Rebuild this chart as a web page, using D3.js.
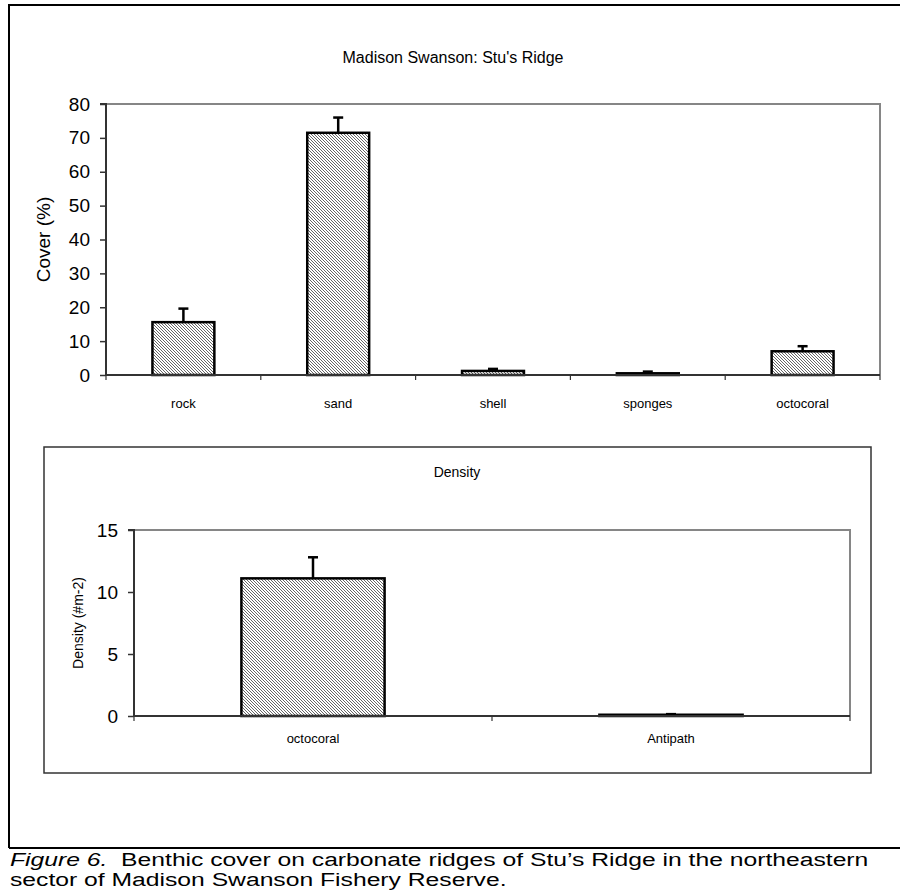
<!DOCTYPE html>
<html><head><meta charset="utf-8">
<script src="https://cdn.jsdelivr.net/npm/d3@7"></script>
<style>body{margin:0;background:#fff}svg{display:block}text{font-family:"Liberation Sans",Arial,sans-serif;fill:#000}</style>
</head><body>
<svg id="c" width="900" height="891"></svg>
<script>
// Top chart data
const coverCats = ["rock","sand","shell","sponges","octocoral"];
const coverVals = [15.6, 71.5, 1.2, 0.5, 7.0];
const coverErr  = [4.0, 4.5, 0.6, 0.5, 1.5];
const coverTicks = [0,10,20,30,40,50,60,70,80];
// Bottom chart data
const densCats = ["octocoral","Antipath"];
const densVals = [11.1, 0.1];
const densErr  = [1.7, 0.05];
const densTicks = [0,5,10,15];

const svg = d3.select("#c");
const defs = svg.append("defs");
const pat = defs.append("pattern").attr("id","hatch").attr("patternUnits","userSpaceOnUse")
  .attr("width",3).attr("height",3);
pat.append("rect").attr("width",3).attr("height",3).attr("fill","#fff");
pat.append("path").attr("d","M-1,-1L4,4M-1,2L1,4M2,-1L4,1").attr("stroke","#555").attr("stroke-width",0.9);

// outer frame
svg.append("path").attr("d","M9,848V5H900").attr("fill","none").attr("stroke","#000").attr("stroke-width",2);
svg.append("line").attr("x1",9).attr("x2",900).attr("y1",848).attr("y2",848).attr("stroke","#000").attr("stroke-width",2);

function barChart(o){
  const g = svg.append("g");
  const x = d3.scaleBand().domain(o.cats).range([o.x0,o.x1]).paddingInner(0.6).paddingOuter(0.3);
  const xb = d3.scaleBand().domain(o.cats).range([o.x0,o.x1]);
  const y = d3.scaleLinear().domain([0,o.max]).range([o.y0,o.y1]);
  g.append("path").attr("d",`M${o.x0},${o.y1}H${o.x1}V${o.y0}`).attr("fill","none").attr("stroke","#868686").attr("stroke-width",2);
  g.selectAll("rect.bar").data(o.vals).join("rect").attr("class","bar")
    .attr("x",(d,i)=>x(o.cats[i])).attr("width",x.bandwidth())
    .attr("y",d=>y(d)).attr("height",d=>y(0)-y(d))
    .attr("fill","url(#hatch)").attr("stroke","#000").attr("stroke-width",2.5);
  const eg = g.append("g").attr("stroke","#000").attr("stroke-width",2.5);
  o.vals.forEach((v,i)=>{
    const cx = x(o.cats[i])+x.bandwidth()/2;
    eg.append("line").attr("x1",cx).attr("x2",cx).attr("y1",y(v)).attr("y2",y(v+o.err[i]));
    eg.append("line").attr("x1",cx-5).attr("x2",cx+5).attr("y1",y(v+o.err[i])).attr("y2",y(v+o.err[i]));
  });
  const ya = g.append("g").attr("transform",`translate(${o.x0},0)`)
    .call(d3.axisLeft(y).tickValues(o.ticks).tickSize(6).tickPadding(o.tp).tickFormat(d3.format("d")));
  ya.select(".domain").attr("stroke","#333").attr("stroke-width",2).attr("d",`M-6,${o.y1}H0V${o.y0}`);
  ya.selectAll(".tick line").attr("stroke","#333").attr("stroke-width",1.5);
  ya.selectAll("text").attr("font-size",19).attr("font-family","Liberation Sans, Arial, sans-serif").attr("fill","#000");
  const xa = g.append("g").attr("transform",`translate(0,${o.y0})`);
  xa.append("line").attr("x1",o.x0).attr("x2",o.x1).attr("y1",0).attr("y2",0).attr("stroke","#333").attr("stroke-width",2);
  const bounds = o.cats.map(c=>xb(c)).concat([o.x1]);
  xa.selectAll("line.t").data(bounds).join("line").attr("class","t")
    .attr("x1",d=>d).attr("x2",d=>d).attr("y1",0).attr("y2",5).attr("stroke","#333").attr("stroke-width",1.2);
  xa.selectAll("text").data(o.cats).join("text")
    .attr("x",d=>xb(d)+xb.bandwidth()/2).attr("y",o.labY-o.y0).attr("text-anchor","middle")
    .attr("font-size",13).text(d=>d);
  g.append("text").attr("x",o.tx).attr("y",o.ty).attr("text-anchor","middle").attr("font-size",o.tfs).text(o.title);
  g.append("text").attr("transform",`translate(${o.ax},${(o.y0+o.y1)/2}) rotate(-90)`)
    .attr("text-anchor","middle").attr("font-size",o.afs).text(o.ylab);
  return g;
}

barChart({cats:coverCats, vals:coverVals, err:coverErr, ticks:coverTicks, max:80,
  x0:106, x1:880, y0:375, y1:104, tp:10, labY:408,
  title:"Madison Swanson: Stu's Ridge", tx:453, ty:63, tfs:16,
  ylab:"Cover (%)", ax:50, afs:19});

svg.append("rect").attr("x",44).attr("y",447).attr("width",827).attr("height",326)
  .attr("fill","none").attr("stroke","#333").attr("stroke-width",1.5);

barChart({cats:densCats, vals:densVals, err:densErr, ticks:densTicks, max:15,
  x0:134, x1:850, y0:716, y1:530, tp:10, labY:743,
  title:"Density", tx:457, ty:477, tfs:14,
  ylab:"Density (#m-2)", ax:83, afs:14});

// caption
const capG = svg.append("g").attr("transform","translate(10,0) scale(1.3,1)");
const cap = capG.append("text").attr("x",0).attr("y",866).attr("font-size",19);
cap.append("tspan").attr("font-style","italic").text("Figure 6.");
cap.append("tspan").text("\u00a0 Benthic cover on carbonate ridges of Stu\u2019s Ridge in the northeastern");
capG.append("text").attr("x",0).attr("y",886).attr("font-size",19).text("sector of Madison Swanson Fishery Reserve.");
</script>
</body></html>
